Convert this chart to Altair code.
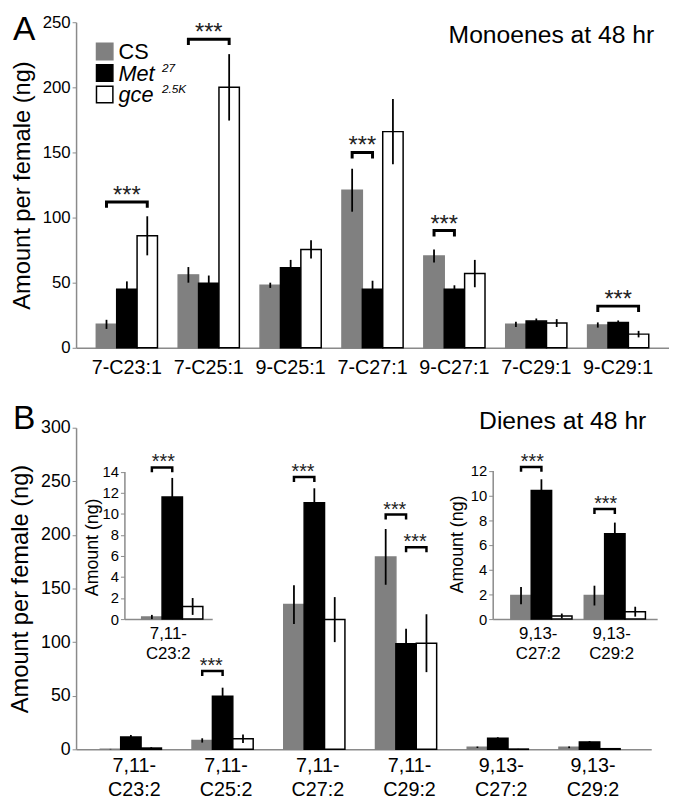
import altair as alt
import pandas as pd

FONT = "Liberation Sans"

# ---------------- data ----------------
series = ["CS", "Met27", "gce2.5K"]
bar_fill = ["#808080", "#000000", "#ffffff"]
bar_stroke = ["#808080", "#000000", "#000000"]

mono_cats = ["7-C23:1", "7-C25:1", "9-C25:1", "7-C27:1", "9-C27:1", "7-C29:1", "9-C29:1"]
mono_cs = [18, 56, 48, 121, 70.5, 18, 17.5]
mono_cs_err = [3.5, 6, 2, 16.5, 5, 2, 2]
mono_met = [45, 49.5, 61.5, 45, 45, 20.5, 19.5]
mono_met_err = [6, 6, 6, 6.5, 3, 2, 1.5]
mono_gce = [86, 200, 75.5, 166, 57, 19, 10.5]
mono_gce_err = [15, 25.5, 7, 25, 10.5, 3, 2.5]
# brackets: (category, from series, to series, level)
mono_brackets = [("7-C23:1", "CS", "gce2.5K", 112), ("7-C25:1", "CS", "gce2.5K", 237),
                 ("7-C27:1", "CS", "Met27", 150), ("9-C27:1", "CS", "Met27", 90),
                 ("9-C29:1", "CS", "gce2.5K", 32)]

dien_cats = ["7,11-C23:2", "7,11-C25:2", "7,11-C27:2", "7,11-C29:2", "9,13-C27:2", "9,13-C29:2"]
dien_cs = [0.2, 8.3, 135, 179.5, 1.9, 1.9]
dien_cs_err = [0.2, 2, 18, 26, 0.7, 0.8]
dien_met = [11.6, 49.5, 230, 98.5, 10.4, 6.9]
dien_met_err = [1.8, 8, 13.5, 14, 0.9, 0.9]
dien_gce = [1.2, 9.8, 121, 99, 0.25, 0.6]
dien_gce_err = [0.8, 4, 21, 27, 0.2, 0.4]
dien_brackets = [("7,11-C25:2", "CS", "Met27", 73), ("7,11-C27:2", "CS", "Met27", 254),
                 ("7,11-C29:2", "CS", "Met27", 219), ("7,11-C29:2", "Met27", "gce2.5K", 188.5)]

inset1_cats = ["7,11-C23:2"]
inset1_brackets = [("7,11-C23:2", "CS", "Met27", 14.4)]
inset2_cats = ["9,13-C27:2", "9,13-C29:2"]
inset2_brackets = [("9,13-C27:2", "CS", "Met27", 12.3), ("9,13-C29:2", "CS", "Met27", 8.9)]


def bar_table(cats, all_cats, vals, errs):
    rows = []
    for s, vl, el in zip(series, vals, errs):
        for c, v, e in zip(all_cats, vl, el):
            if c in cats:
                rows.append(dict(cat=c, series=s, value=v, lo=max(v - e, 0), hi=v + e))
    return pd.DataFrame(rows)


def bracket_tables(brackets, leg):
    lines, texts = [], []
    for i, (c, a, b, lvl) in enumerate(brackets):
        pts = [(a, lvl - leg), (a, lvl), (b, lvl), (b, lvl - leg)]
        for k, (s, y) in enumerate(pts):
            lines.append(dict(bid=i, cat=c, series=s, y=y, k=k))
        ia, ib = series.index(a), series.index(b)
        if (ia + ib) % 2 == 0:
            texts.append(dict(cat=c, series=series[(ia + ib) // 2], y=lvl, half=0))
        else:
            texts.append(dict(cat=c, series=series[(ia + ib + 1) // 2], y=lvl, half=1))
    return pd.DataFrame(lines), pd.DataFrame(texts)


def group(cats, df, brackets, xscale, yscale, xaxis, yaxis, leg, bw, star_size, br_w, star_dy):
    X = alt.X("cat:N", scale=xscale, sort=cats, axis=xaxis, title=None)
    XO = alt.XOffset("series:N", scale=alt.Scale(domain=series), sort=series)
    Y = lambda f: alt.Y(f, scale=yscale, axis=yaxis)
    color = alt.Color("series:N", scale=alt.Scale(domain=series, range=bar_fill), legend=None)
    stroke = alt.Stroke("series:N", scale=alt.Scale(domain=series, range=bar_stroke), legend=None)
    bars = alt.Chart(df).mark_bar(strokeWidth=1.5).encode(
        x=X, xOffset=XO, y=Y("value:Q"), color=color, stroke=stroke)
    errs = alt.Chart(df).mark_rule(color="black", strokeWidth=1.8).encode(
        x=X, xOffset=XO, y=Y("lo:Q"), y2="hi:Q")
    layers = [bars, errs]
    bl, bt = bracket_tables(brackets, leg)
    layers.append(alt.Chart(bl).mark_line(color="black", strokeWidth=br_w, strokeJoin="miter",
                                          strokeCap="butt").encode(
        x=X, xOffset=XO, y=Y("y:Q"), detail="bid:N", order="k:Q"))
    for half in (0, 1):
        sub = bt[bt.half == half]
        if len(sub):
            layers.append(alt.Chart(sub).mark_text(text="***", font=FONT, fontSize=star_size, color="#222",
                                                   baseline="alphabetic", dx=-bw / 2 * half, dy=star_dy).encode(
                x=X, xOffset=XO, y=Y("y:Q")))
    return alt.layer(*layers)


one = pd.DataFrame({"a": [0]})


def label(text, x, y, size, align="left", baseline="middle", style="normal", angle=0):
    return alt.Chart(one).mark_text(text=text, font=FONT, fontSize=size, align=align, baseline=baseline,
                                    fontStyle=style, color="black", angle=angle).encode(
        x=alt.value(x), y=alt.value(y))


axis_common = dict(domainColor="#8a8a8a", tickColor="#8a8a8a", labelColor="black", labelFont=FONT,
                   titleFont=FONT, titleFontWeight="normal", titleColor="black", grid=False, domainWidth=1.5)

# ---------------- Panel A ----------------
WA, HA = 601, 330
yA = alt.Axis(values=[0, 50, 100, 150, 200, 250], labelFontSize=17, tickSize=4, labelPadding=2,
              title="Amount per female (ng)", titleFontSize=24, titlePadding=8, **axis_common)
xA = alt.Axis(labelFontSize=20, tickSize=0, labelPadding=10, labelAngle=0, **axis_common)
dfA = bar_table(mono_cats, mono_cats, [mono_cs, mono_met, mono_gce], [mono_cs_err, mono_met_err, mono_gce_err])
gA = group(mono_cats, dfA, mono_brackets,
           alt.Scale(domain=mono_cats, paddingInner=0.253, paddingOuter=0.247),
           alt.Scale(domain=[0, 250], nice=False), xA, yA,
           leg=6 / (HA / 250), bw=20.7, star_size=24, br_w=3, star_dy=1)

legend_layers = []
leg_items = [("CS", None, "normal"), ("Met", "27", "italic"), ("gce", "2.5K", "italic")]
for i, (name, sup, style) in enumerate(leg_items):
    cy = 29.7 + 21.8 * i
    legend_layers.append(alt.Chart(one).mark_square(size=276, fill=bar_fill[i], stroke=bar_stroke[i],
                                                    strokeWidth=1.5, opacity=1).encode(
        x=alt.value(29), y=alt.value(cy)))
    legend_layers.append(label(name, 43, cy + 8, 22, baseline="alphabetic", style=style))
    if sup:
        legend_layers.append(label(sup, 87, cy - 1.5, 12, baseline="alphabetic", style="italic"))

panelA = alt.layer(
    gA, *legend_layers,
    label("Monoenes at 48 hr", 586, 13.5, 25, align="right"),
    label("A", -64, -9, 34, baseline="top"),
).properties(width=WA, height=HA)

# ---------------- Panel B ----------------
WB, HB = 583, 326
yB = alt.Axis(values=[0, 50, 100, 150, 200, 250, 300], labelFontSize=18, tickSize=4, labelPadding=2,
              title="Amount per female (ng)", titleFontSize=24, titlePadding=8, **axis_common)
split_expr = ("[slice(datum.label, 0, indexof(datum.label, '-') + 1), "
              "slice(datum.label, indexof(datum.label, '-') + 1)]")
xB = alt.Axis(labelFontSize=20, tickSize=0, labelPadding=6, labelAngle=0, labelExpr=split_expr,
              labelLineHeight=25, **axis_common)
dfB = bar_table(dien_cats, dien_cats, [dien_cs, dien_met, dien_gce], [dien_cs_err, dien_met_err, dien_gce_err])
gB = group(dien_cats, dfB, dien_brackets,
           alt.Scale(domain=dien_cats, paddingInner=0.258, paddingOuter=0.264),
           alt.Scale(domain=[0, 300], nice=False), xB, yB,
           leg=5 / (HB / 300), bw=23, star_size=20, br_w=2.5, star_dy=1)

# inset 1
i1_y0, i1_y1 = 194, 44.5
yI1 = alt.Axis(values=list(range(0, 15, 2)), labelFontSize=15, tickSize=4, labelPadding=2, orient="left",
               offset=-49, title=None, **axis_common)
xI1 = alt.Axis(labelFontSize=17, tickSize=0, labelPadding=7, labelAngle=0, labelExpr=split_expr,
               labelLineHeight=20, orient="bottom", offset=-(HB - i1_y0), **axis_common)
dfI1 = bar_table(inset1_cats, dien_cats, [dien_cs, dien_met, dien_gce], [dien_cs_err, dien_met_err, dien_gce_err])
gI1 = group(inset1_cats, dfI1, inset1_brackets,
            alt.Scale(domain=inset1_cats, range=[49, 138], paddingInner=0, paddingOuter=0.324),
            alt.Scale(domain=[0, 14], range=[i1_y0, i1_y1], nice=False), xI1, yI1,
            leg=5 / ((i1_y0 - i1_y1) / 14), bw=18, star_size=20, br_w=2.5, star_dy=1)

# inset 2
i2_y0, i2_y1 = 194, 43.5
yI2 = alt.Axis(values=list(range(0, 13, 2)), labelFontSize=15, tickSize=4, labelPadding=2, orient="left",
               offset=-422.3, title=None, **axis_common)
xI2 = alt.Axis(labelFontSize=17, tickSize=0, labelPadding=7, labelAngle=0, labelExpr=split_expr,
               labelLineHeight=20, orient="bottom", offset=-(HB - i2_y0), **axis_common)
dfI2 = bar_table(inset2_cats, dien_cats, [dien_cs, dien_met, dien_gce], [dien_cs_err, dien_met_err, dien_gce_err])
gI2 = group(inset2_cats, dfI2, inset2_brackets,
            alt.Scale(domain=inset2_cats, range=[422.3, 589], paddingInner=0.254, paddingOuter=0.247),
            alt.Scale(domain=[0, 12], range=[i2_y0, i2_y1], nice=False), xI2, yI2,
            leg=5 / ((i2_y0 - i2_y1) / 12), bw=18.5, star_size=20, br_w=2.5, star_dy=1)

deco = alt.layer(
    label("Dienes at 48 hr", 578, -6.2, 25, align="right"),
    label("B", -64, -9, 34),
    label("Amount (ng)", 17, 121.3, 18, align="center", angle=270),
    label("Amount (ng)", 387, 118.3, 18, align="center", angle=270),
)

panelB = alt.layer(gB, gI1, gI2, deco).resolve_scale(x="independent", y="independent").resolve_axis(
    x="independent", y="independent").properties(width=WB, height=HB)

chart = alt.vconcat(panelA, panelB, spacing=25).properties(padding=0).configure_view(stroke=None)

chart.save("out.html", embed_options={"renderer": "svg", "actions": False})
